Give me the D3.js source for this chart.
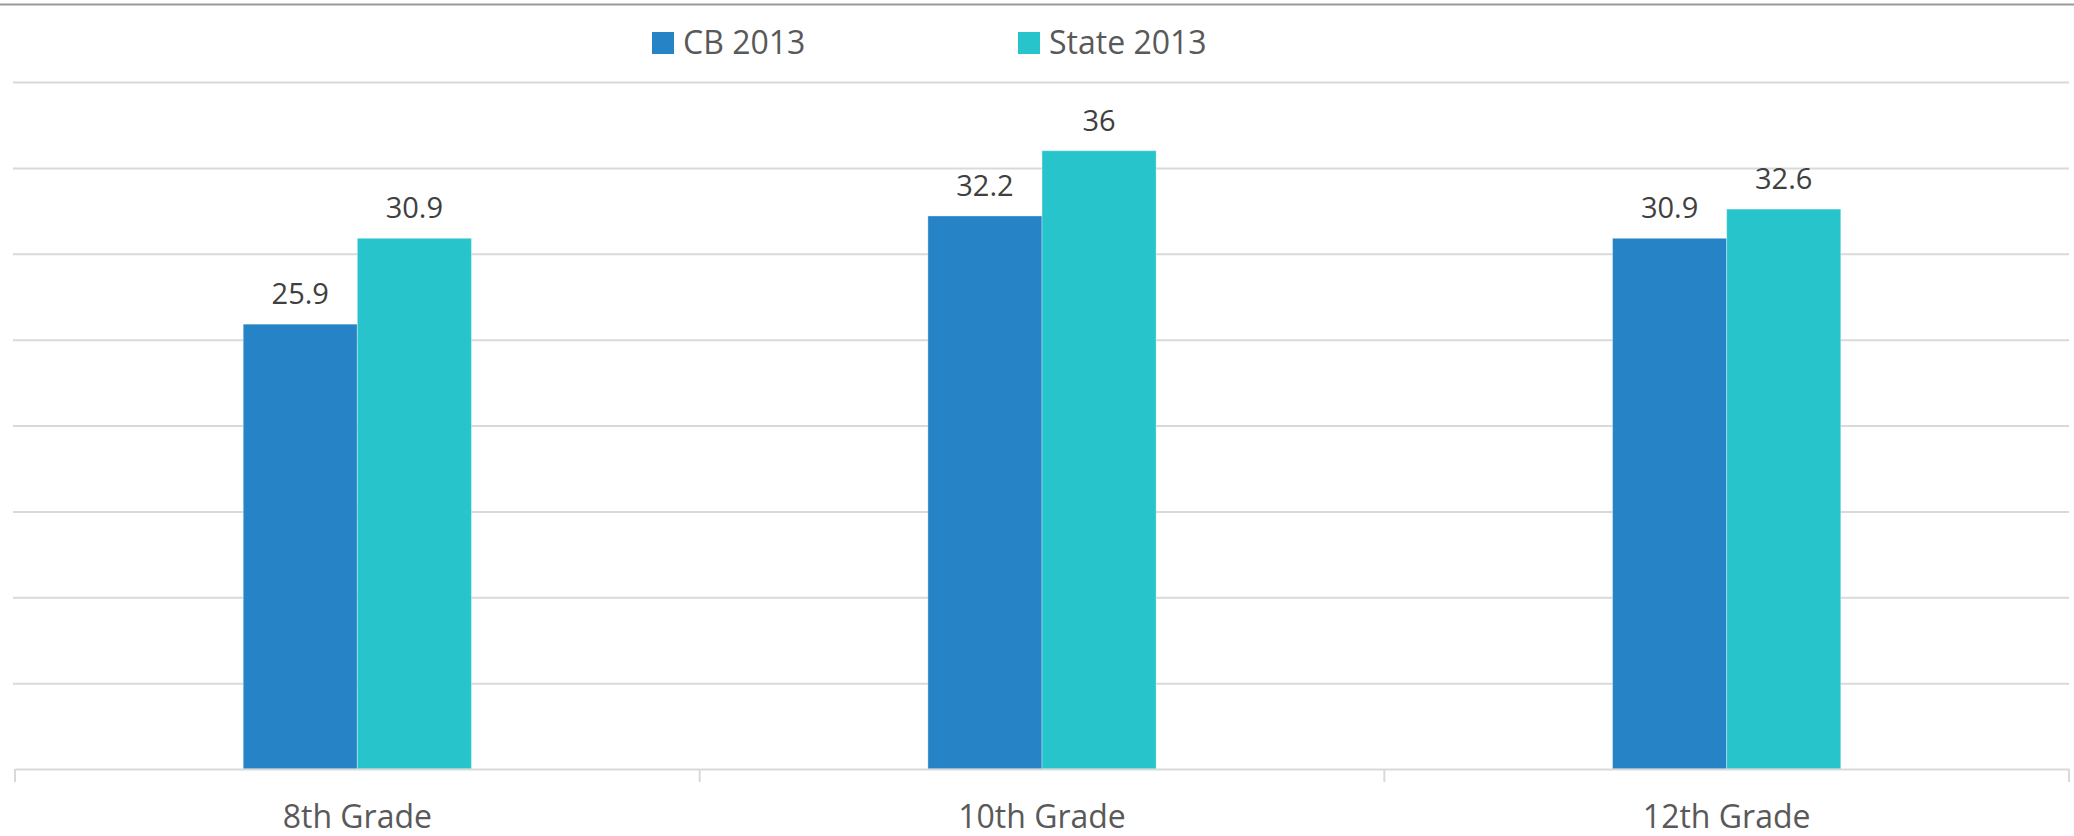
<!DOCTYPE html>
<html>
<head>
<meta charset="utf-8">
<script src="https://cdn.jsdelivr.net/npm/d3@7"></script>
<style>
  body { margin: 0; background: #fff; }
  svg { display: block; font-family: "Open Sans", sans-serif; }
</style>
</head>
<body>
<div id="chart"></div>
<script>
// chart data
const grades = ['8th Grade', '10th Grade', '12th Grade']
const seriesNames = ['CB 2013', 'State 2013']
const cbValues = [25.9, 32.2, 30.9]
const stateValues = [30.9, 36, 32.6]
const gridTicks = [5, 10, 15, 20, 25, 30, 35, 40]

const colors = { 'CB 2013': '#2683C6', 'State 2013': '#27C4CB' }

const width = 2074, height = 836
const plotLeft = 15, plotRight = 2069, plotTop = 82, plotBottom = 769

let svg = d3.select('#chart').append('svg')
    .attr('width', width)
    .attr('height', height)

// top frame line
svg.append('line')
    .attr('x1', 0).attr('x2', width)
    .attr('y1', 4.5).attr('y2', 4.5)
    .attr('stroke', '#999').attr('stroke-width', 2)

let rows = grades.map((g, i) => ({ grade: g, 'CB 2013': cbValues[i], 'State 2013': stateValues[i] }))

let x0 = d3.scaleBand().domain(grades).range([plotLeft, plotRight]).padding(0)
let x1 = d3.scaleBand().domain(seriesNames).range([0, x0.bandwidth()]).paddingInner(0).paddingOuter(2)
let y = d3.scaleLinear().domain([0, 40]).range([plotBottom, plotTop])

// gridlines
let grid = svg.append('g').classed('grid', true)
    .attr('transform', 'translate(' + 13 + ',0)')
    .call(d3.axisLeft(y).tickValues(gridTicks).tickSize(-(2069 - 13)).tickFormat(''))
grid.select('.domain').remove()
grid.selectAll('line').attr('stroke', '#d9d9d9').attr('stroke-width', 2)

// bars
let groups = svg.append('g').selectAll('g')
    .data(rows)
    .join('g')
    .attr('transform', d => 'translate(' + x0(d.grade) + ',0)')

groups.selectAll('rect')
    .data(d => seriesNames.map(s => ({ key: s, value: d[s] })))
    .join('rect')
    .attr('x', d => x1(d.key))
    .attr('y', d => y(d.value))
    .attr('width', x1.bandwidth())
    .attr('height', d => y(0) - y(d.value))
    .attr('fill', d => colors[d.key])
    .attr('stroke', '#fff').attr('stroke-opacity', 0.35).attr('stroke-width', 1)

groups.selectAll('text')
    .data(d => seriesNames.map(s => ({ key: s, value: d[s] })))
    .join('text')
    .attr('x', d => x1(d.key) + x1.bandwidth() / 2)
    .attr('y', d => y(d.value) - 20)
    .attr('text-anchor', 'middle')
    .attr('font-size', 29)
    .attr('fill', '#404040')
    .text(d => d.value)

// x axis
let xAxis = svg.append('g').classed('x-axis', true)
    .attr('transform', 'translate(0,' + plotBottom + ')')
    .call(d3.axisBottom(x0).tickSize(0).tickPadding(59))
xAxis.select('.domain').attr('stroke', '#d9d9d9').attr('stroke-width', 2)
xAxis.selectAll('text').attr('font-size', 32).attr('fill', '#595959')
    .attr('font-family', '"Open Sans", sans-serif')
    .attr('dy', 0)

// category separator ticks
let edges = grades.map(g => x0(g)).concat([plotRight])
svg.append('g').selectAll('line')
    .data(edges)
    .join('line')
    .attr('x1', d => d).attr('x2', d => d)
    .attr('y1', plotBottom).attr('y2', plotBottom + 13)
    .attr('stroke', '#d9d9d9').attr('stroke-width', 2)

// legend
const legendX = [652, 1018]
let legend = svg.append('g').selectAll('g')
    .data(seriesNames)
    .join('g')
    .attr('transform', (d, i) => 'translate(' + legendX[i] + ',0)')
legend.append('rect')
    .attr('x', 0).attr('y', 32)
    .attr('width', 22).attr('height', 22)
    .attr('fill', d => colors[d])
legend.append('text')
    .attr('x', 31).attr('y', 54)
    .attr('font-size', 32)
    .attr('fill', '#595959')
    .text(d => d)
</script>
</body>
</html>
